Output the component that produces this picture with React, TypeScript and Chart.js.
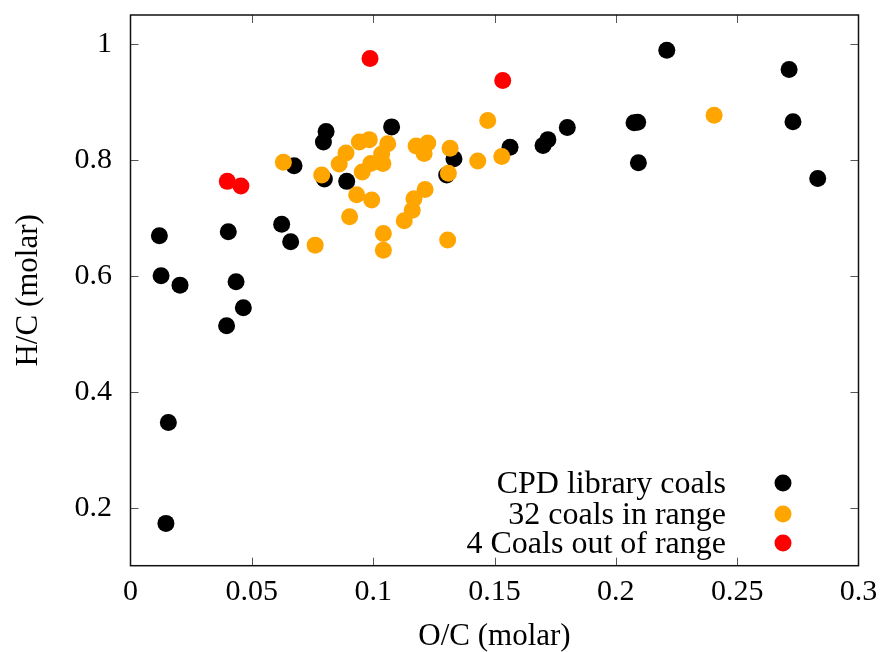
import React, { useEffect, useRef } from "react";
import { Chart, registerables } from "chart.js";

Chart.register(...registerables);

const seriesLabels = ["CPD library coals", "32 coals in range", "4 Coals out of range"];
const seriesColors = ["#000000", "#ffa500", "#ff0000"];

const libraryOC = [
  0.0119, 0.0126, 0.0204, 0.0156, 0.0146, 0.0403, 0.0435, 0.0396, 0.0465, 0.0623,
  0.066, 0.0674, 0.0799, 0.0806, 0.0795, 0.0891, 0.1076, 0.1333, 0.1303, 0.1564,
  0.170, 0.172, 0.180, 0.2075, 0.209, 0.2093, 0.221, 0.2714, 0.273, 0.2832,
];
const libraryHC = [
  0.669, 0.600, 0.584, 0.347, 0.173, 0.676, 0.590, 0.514, 0.545, 0.689,
  0.659, 0.790, 0.767, 0.849, 0.831, 0.763, 0.857, 0.802, 0.774, 0.822,
  0.825, 0.835, 0.856, 0.864, 0.865, 0.795, 0.989, 0.956, 0.866, 0.768,
];

const inRangeOC = [
  0.063, 0.0788, 0.0761, 0.086, 0.0888, 0.0903, 0.0932, 0.0943, 0.0955, 0.0984,
  0.099, 0.0994, 0.1035, 0.104, 0.106, 0.1042, 0.1042, 0.1128, 0.1161, 0.1168,
  0.1177, 0.121, 0.1214, 0.1225, 0.1307, 0.131, 0.1317, 0.1431, 0.1472, 0.153,
  0.2405,
];
const inRangeHC = [
  0.796, 0.774, 0.653, 0.793, 0.812, 0.702, 0.740, 0.831, 0.779, 0.835,
  0.794, 0.731, 0.810, 0.794, 0.828, 0.673, 0.644, 0.695, 0.713, 0.733,
  0.824, 0.811, 0.749, 0.829, 0.662, 0.777, 0.820, 0.798, 0.868, 0.806,
  0.877,
];

const outRangeOC = [0.0399, 0.0455, 0.0987, 0.1534];
const outRangeHC = [0.763, 0.755, 0.975, 0.937];

const xTicks = [0, 0.05, 0.1, 0.15, 0.2, 0.25, 0.3];
const yTicks = [0.2, 0.4, 0.6, 0.8, 1];

const xTitle = "O/C (molar)";
const yTitle = "H/C (molar)";

const FONT = "'Liberation Serif', 'DejaVu Serif', serif";

function toPoints(xs: number[], ys: number[]) {
  return xs.map((x, i) => ({ x, y: ys[i] }));
}

const framePlugin = {
  id: "frameTicks",
  afterDraw(chart: any) {
    const { ctx, chartArea } = chart;
    const { left, right, top, bottom } = chartArea;
    const xs = chart.scales.x;
    const ys = chart.scales.y;
    const tl = 8;
    ctx.save();
    ctx.strokeStyle = "#555555";
    ctx.lineWidth = 1;
    ctx.beginPath();
    for (const v of xTicks) {
      const px = Math.round(xs.getPixelForValue(v)) + 0.5;
      if (v !== xTicks[0] && v !== xTicks[xTicks.length - 1]) {
        ctx.moveTo(px, bottom);
        ctx.lineTo(px, bottom - tl);
        ctx.moveTo(px, top);
        ctx.lineTo(px, top + tl);
      }
    }
    for (const v of yTicks) {
      const py = Math.round(ys.getPixelForValue(v)) + 0.5;
      ctx.moveTo(left, py);
      ctx.lineTo(left + tl, py);
      ctx.moveTo(right, py);
      ctx.lineTo(right - tl, py);
    }
    ctx.stroke();
    ctx.strokeStyle = "#111111";
    ctx.lineWidth = 1.5;
    ctx.strokeRect(left, top, right - left, bottom - top);

    // legend (inside, bottom-right)
    const textRight = 726;
    const markerX = 783;
    const rows = [483, 514, 543];
    ctx.font = `32px ${FONT}`;
    ctx.textAlign = "right";
    ctx.textBaseline = "alphabetic";
    chart.data.datasets.forEach((ds: any, i: number) => {
      ctx.fillStyle = "#000000";
      ctx.fillText(ds.label, textRight, rows[i] + 10);
      ctx.fillStyle = ds.backgroundColor;
      ctx.beginPath();
      ctx.arc(markerX, rows[i], 8.5, 0, Math.PI * 2);
      ctx.fill();
    });
    ctx.restore();
  },
};

export default function App() {
  const canvasRef = useRef<HTMLCanvasElement | null>(null);

  useEffect(() => {
    document.body.style.margin = "0";
    const canvas = canvasRef.current;
    if (!canvas) return;
    const chart = new Chart(canvas, {
      type: "scatter",
      data: {
        datasets: [
          {
            label: seriesLabels[0],
            data: toPoints(libraryOC, libraryHC),
            backgroundColor: seriesColors[0],
            borderWidth: 0,
            pointRadius: 8.5,
            order: 3,
          },
          {
            label: seriesLabels[1],
            data: toPoints(inRangeOC, inRangeHC),
            backgroundColor: seriesColors[1],
            borderWidth: 0,
            pointRadius: 8.5,
            order: 2,
          },
          {
            label: seriesLabels[2],
            data: toPoints(outRangeOC, outRangeHC),
            backgroundColor: seriesColors[2],
            borderWidth: 0,
            pointRadius: 8.5,
            order: 1,
          },
        ],
      },
      options: {
        responsive: false,
        animation: false,
        devicePixelRatio: 1,
        layout: { padding: { top: 15, right: 21.5, left: 0, bottom: 0 } },
        plugins: {
          legend: { display: false },
          tooltip: { enabled: false },
        },
        scales: {
          x: {
            type: "linear",
            min: 0,
            max: 0.3,
            afterBuildTicks: (s: any) => {
              s.ticks = xTicks.map((v) => ({ value: v }));
            },
            afterFit: (s: any) => {
              s.height = 86.3;
              s.paddingLeft = 0;
              s.paddingRight = 0;
              s.paddingTop = 0;
              s.paddingBottom = 0;
            },
            grid: { display: false, drawTicks: false },
            border: { display: false },
            ticks: {
              padding: 8,
              color: "#000000",
              font: { family: FONT, size: 30 },
              callback: (v: any) => String(Math.round(Number(v) * 100) / 100),
              maxRotation: 0,
              autoSkip: false,
            },
            title: {
              display: true,
              text: xTitle,
              color: "#000000",
              font: { family: FONT, size: 31, lineHeight: 1 },
              padding: { top: 0, bottom: 0 },
            },
          },
          y: {
            type: "linear",
            min: 0.1,
            max: 1.05,
            afterBuildTicks: (s: any) => {
              s.ticks = yTicks.map((v) => ({ value: v }));
            },
            afterFit: (s: any) => {
              s.width = 130.5;
              s.paddingLeft = 0;
              s.paddingRight = 0;
              s.paddingTop = 0;
              s.paddingBottom = 0;
            },
            grid: { display: false, drawTicks: false },
            border: { display: false },
            ticks: {
              padding: 18.5,
              color: "#000000",
              font: { family: FONT, size: 30 },
              callback: (v: any) => String(Math.round(Number(v) * 100) / 100),
              autoSkip: false,
            },
            title: {
              display: true,
              text: yTitle,
              color: "#000000",
              font: { family: FONT, size: 31, lineHeight: 1 },
              padding: { top: 13, bottom: 0 },
            },
          },
        },
      },
      plugins: [framePlugin],
    });
    return () => chart.destroy();
  }, []);

  return (
    <div style={{ position: "absolute", left: 0, top: 0, width: 880, height: 652, background: "#ffffff" }}>
      <canvas ref={canvasRef} width={880} height={652} />
    </div>
  );
}
